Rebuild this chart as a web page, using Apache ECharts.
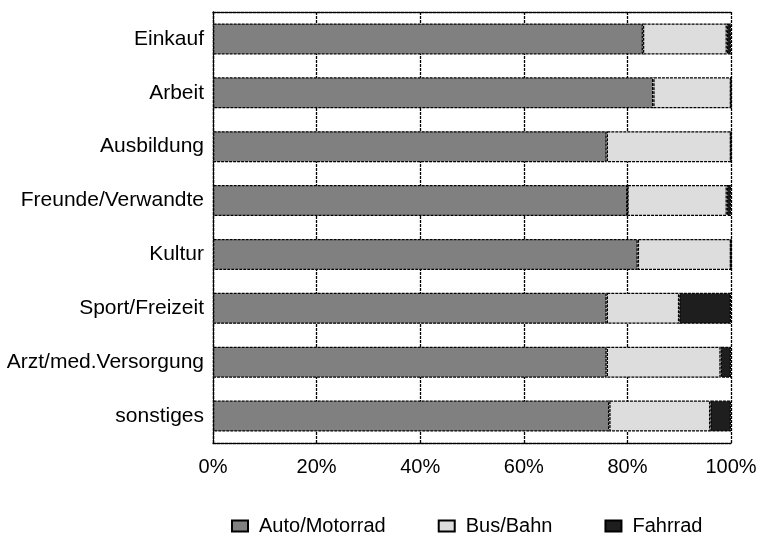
<!DOCTYPE html>
<html>
<head>
<meta charset="utf-8">
<script src="https://cdn.jsdelivr.net/npm/echarts@6/dist/echarts.min.js"></script>
<style>html,body{margin:0;padding:0;background:#fff;}#c{width:760px;height:536px;}</style>
</head>
<body>
<div id="c"></div>
<script>
var categories = ['Einkauf', 'Arbeit', 'Ausbildung', 'Freunde/Verwandte', 'Kultur', 'Sport/Freizeit', 'Arzt/med.Versorgung', 'sonstiges'];
var auto = [83, 85, 76, 80, 82, 76, 76, 76.5];
var bus = [16.2, 15, 24, 19.2, 18, 14, 22, 19.5];
var fahrrad = [0.8, 0, 0, 0.8, 0, 10, 2, 4];
var tickLabels = ['0%', '20%', '40%', '60%', '80%', '100%'];
var seriesNames = ['Auto/Motorrad', 'Bus/Bahn', 'Fahrrad'];

var font = 'Liberation Sans, Arial, sans-serif';
var dash = [3, 1];
var colors = ['#808080', '#dddddd', '#1e1e1e'];
var chart = echarts.init(document.getElementById('c'));
function mk(name, data, color) {
  return {
    name: name, type: 'bar', stack: 'all', data: data, barWidth: 31,
    xAxisIndex: 0,
    itemStyle: {color: color, borderColor: '#000', borderWidth: 1.3, borderType: dash},
    emphasis: {disabled: true}
  };
}
chart.setOption({
  animation: false,
  textStyle: {fontFamily: font},
  grid: {left: 213, right: 29, top: 12, bottom: 93, containLabel: false},
  legend: {
    top: 511, left: 226, itemGap: 52, itemWidth: 16, itemHeight: 11,
    icon: 'rect',
    data: seriesNames,
    textStyle: {fontSize: 20, color: '#000', fontFamily: font, padding: [0, 0, 0, 6]}
  },
  xAxis: [{
    type: 'value', min: 0, max: 100, interval: 20,
    axisLabel: {fontSize: 20, color: '#000', margin: 14,
      formatter: function (v) { return tickLabels[Math.round(v / 20)]; }},
    axisLine: {show: true, lineStyle: {color: '#000', type: dash, width: 1.3}},
    axisTick: {show: false},
    splitLine: {show: true, lineStyle: {color: '#000', type: dash, width: 1.3}}
  }, {
    type: 'value', min: 0, max: 100, interval: 20, position: 'top',
    axisLabel: {show: false}, axisTick: {show: false}, splitLine: {show: false},
    axisLine: {show: true, lineStyle: {color: '#000', type: dash, width: 1.3}}
  }],
  yAxis: {
    type: 'category', data: categories, inverse: true,
    axisLabel: {fontSize: 21, color: '#000', margin: 9},
    axisLine: {show: true, lineStyle: {color: '#000', type: dash, width: 1.3}},
    axisTick: {show: false},
    splitLine: {show: false}
  },
  series: [mk(seriesNames[0], auto, colors[0]), mk(seriesNames[1], bus, colors[1]), mk(seriesNames[2], fahrrad, colors[2])]
});
</script>
</body>
</html>
